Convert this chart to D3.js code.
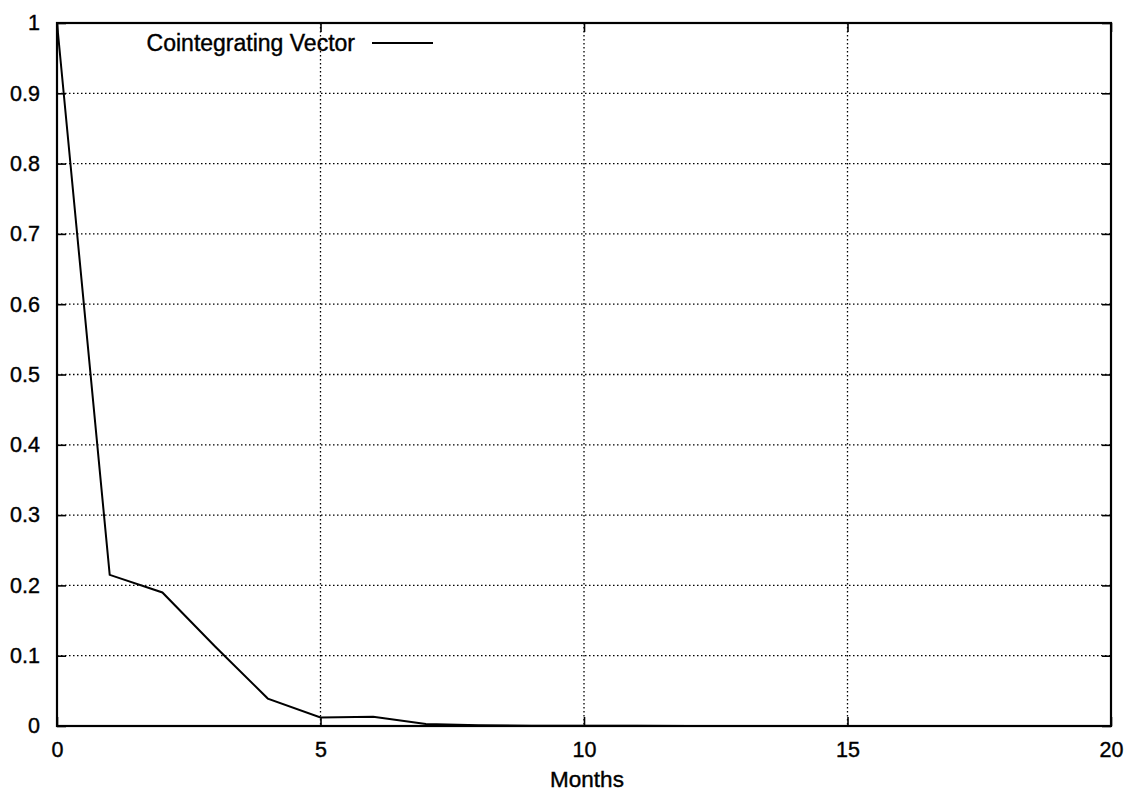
<!DOCTYPE html>
<html>
<head>
<meta charset="utf-8">
<script src="https://cdn.jsdelivr.net/npm/d3@7"></script>
<style>
  body { margin: 0; background: #fff; }
  text { font-family: "Liberation Sans", Arial, sans-serif; fill: #000; stroke: #000; stroke-width: 0.4px; }
</style>
</head>
<body>
<div id="vis"></div>
<script>
const FRAME_WIDTH = 1128;
const FRAME_HEIGHT = 792;
const MARGINS = {left: 57, right: 17, top: 23, bottom: 66};
const VIS_WIDTH = FRAME_WIDTH - MARGINS.left - MARGINS.right;
const VIS_HEIGHT = FRAME_HEIGHT - MARGINS.top - MARGINS.bottom;

// data
const months = [0, 1, 2, 3, 4, 5, 6, 7, 8, 9, 10, 11, 12, 13, 14, 15, 16, 17, 18, 19, 20];
const vectorValues = [1.0, 0.215, 0.19, 0.113, 0.039, 0.012, 0.013, 0.003, 0.001, 0.0005, 0.0003,
                      0.0002, 0.0001, 0, 0, 0, 0, 0, 0, 0, 0];
const xTicks = [0, 5, 10, 15, 20];
const yTicks = [0, 0.1, 0.2, 0.3, 0.4, 0.5, 0.6, 0.7, 0.8, 0.9, 1];
const seriesName = "Cointegrating Vector";
const xLabel = "Months";

const svg = d3.select("#vis")
  .append("svg")
    .attr("width", FRAME_WIDTH)
    .attr("height", FRAME_HEIGHT);

const X_SCALE = d3.scaleLinear().domain([0, 20]).range([0, VIS_WIDTH]);
const Y_SCALE = d3.scaleLinear().domain([0, 1]).range([VIS_HEIGHT, 0]);

const plot = svg.append("g")
  .attr("transform", "translate(" + MARGINS.left + "," + MARGINS.top + ")");

// dotted grid
plot.append("g")
  .selectAll("line")
  .data(yTicks.filter(d => d > 0 && d < 1))
  .enter().append("line")
    .attr("x1", 0).attr("x2", VIS_WIDTH)
    .attr("y1", d => Y_SCALE(d)).attr("y2", d => Y_SCALE(d))
    .attr("stroke", "#000").attr("stroke-width", 1.3)
    .attr("stroke-dasharray", "1.5,2.5");

plot.append("g")
  .selectAll("line")
  .data(xTicks.filter(d => d > 0 && d < 20))
  .enter().append("line")
    .attr("x1", d => X_SCALE(d)).attr("x2", d => X_SCALE(d))
    .attr("y1", 0).attr("y2", VIS_HEIGHT)
    .attr("stroke", "#000").attr("stroke-width", 1.3)
    .attr("stroke-dasharray", "1.5,2.5");

// axes, ticks pointing inwards like gnuplot
const TICK = 9;
plot.append("g")
  .attr("transform", "translate(0," + VIS_HEIGHT + ")")
  .call(d3.axisBottom(X_SCALE).tickValues(xTicks).tickSizeInner(-TICK).tickSizeOuter(0).tickPadding(16).tickFormat(d3.format("d")));
plot.append("g")
  .call(d3.axisTop(X_SCALE).tickValues(xTicks).tickSizeInner(-TICK).tickSizeOuter(0).tickFormat(""));
plot.append("g")
  .call(d3.axisLeft(Y_SCALE).tickValues(yTicks).tickSizeInner(-TICK).tickSizeOuter(0).tickPadding(17)
    .tickFormat(d => d === 0 || d === 1 ? d3.format("d")(d) : d3.format(".1f")(d)));
plot.append("g")
  .attr("transform", "translate(" + VIS_WIDTH + ",0)")
  .call(d3.axisRight(Y_SCALE).tickValues(yTicks).tickSizeInner(-TICK).tickSizeOuter(0).tickFormat(""));

plot.selectAll(".domain").remove();
plot.selectAll(".tick line").attr("stroke", "#000").attr("stroke-width", 1.6);
plot.selectAll(".tick text").attr("font-size", "21.5px")
  .attr("font-family", "'Liberation Sans', Arial, sans-serif");

// border
plot.append("rect")
  .attr("x", 0).attr("y", 0)
  .attr("width", VIS_WIDTH).attr("height", VIS_HEIGHT)
  .attr("fill", "none").attr("stroke", "#000").attr("stroke-width", 2.2);

// the series
const line = d3.line()
  .x((d, i) => X_SCALE(months[i]))
  .y(d => Y_SCALE(d));

plot.append("path")
  .datum(vectorValues)
  .attr("d", line)
  .attr("fill", "none")
  .attr("stroke", "#000")
  .attr("stroke-width", 2);

// legend
plot.append("text")
  .attr("x", 298).attr("y", 28)
  .attr("text-anchor", "end")
  .attr("font-size", "23px")
  .text(seriesName);
plot.append("line")
  .attr("x1", 315).attr("x2", 376)
  .attr("y1", 20).attr("y2", 20)
  .attr("stroke", "#000").attr("stroke-width", 2);

// x label
svg.append("text")
  .attr("x", MARGINS.left + VIS_WIDTH / 2 + 3)
  .attr("y", 787)
  .attr("text-anchor", "middle")
  .attr("font-size", "22.5px")
  .text(xLabel);
</script>
</body>
</html>
